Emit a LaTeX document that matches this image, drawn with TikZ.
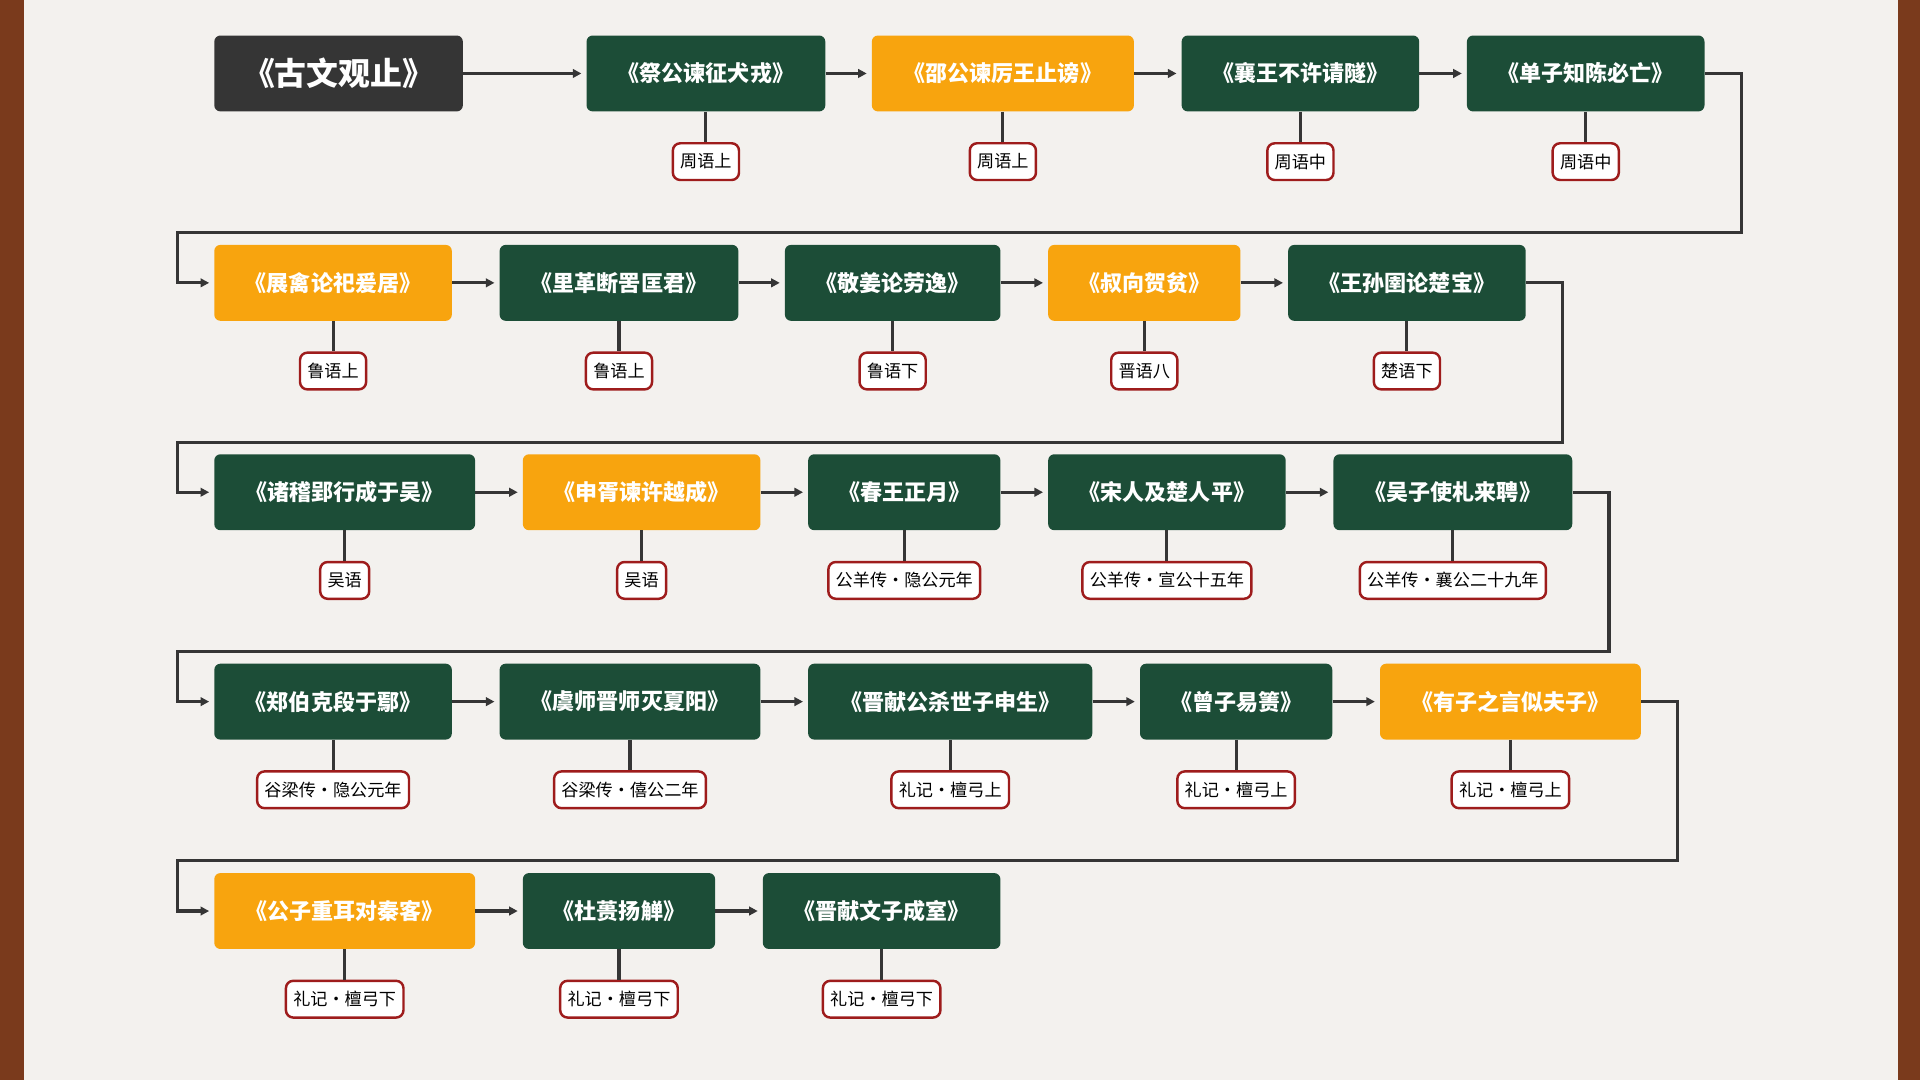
\documentclass[tikz,border=0pt]{standalone}
\usepackage{fontspec}
\setmainfont{Noto Sans CJK SC}
\usetikzlibrary{arrows.meta}
\definecolor{gr}{HTML}{1C4D37}
\definecolor{og}{HTML}{F8A40E}
\definecolor{dk}{HTML}{353535}
\definecolor{rd}{HTML}{9E1C1C}
\definecolor{paper}{HTML}{F3F1EE}
\definecolor{wood}{HTML}{7A3A1C}
\begin{document}
\begin{tikzpicture}[x=1pt,y=-1pt,
 box/.style={rounded corners=5pt,minimum height=62pt,text=white,font=\fontsize{18}{20}\selectfont\bfseries,inner sep=0pt},
 g/.style={box,fill=gr},
 o/.style={box,fill=og},
 lab/.style={draw=rd,line width=2pt,fill=white,rounded corners=6pt,minimum height=30pt,inner xsep=6pt,font=\fontsize{14}{16}\selectfont},
 ar/.style={draw=dk,line width=2.5pt,-{Triangle[length=7pt,width=7pt]}},
 st/.style={draw=dk,line width=2.5pt}]
\fill[wood] (0,0) rectangle (1568,882);
\fill[paper] (20,0) rectangle (1550,882);
\useasboundingbox (0,0) rectangle (1568,882);
% row 1
\node[box,fill=dk,minimum width=203pt,font=\fontsize{26}{28}\selectfont\bfseries] (a0) at (276.5,60) {《古文观止》};
\node[g,minimum width=195pt] (a1) at (576.5,60) {《祭公谏征犬戎》};
\node[o,minimum width=214pt] (a2) at (819,60) {《邵公谏厉王止谤》};
\node[g,minimum width=194pt] (a3) at (1062,60) {《襄王不许请隧》};
\node[g,minimum width=194pt] (a4) at (1295,60) {《单子知陈必亡》};
\node[lab] (l1) at (576.5,132) {周语上};
\node[lab] (l2) at (819,132) {周语上};
\node[lab] (l3) at (1062,132) {周语中};
\node[lab] (l4) at (1295,132) {周语中};
% row 2
\node[o,minimum width=194pt] (b1) at (272,231) {《展禽论祀爰居》};
\node[g,minimum width=195pt] (b2) at (505.5,231) {《里革断罟匡君》};
\node[g,minimum width=176pt] (b3) at (729,231) {《敬姜论劳逸》};
\node[o,minimum width=157pt] (b4) at (934.5,231) {《叔向贺贫》};
\node[g,minimum width=194pt] (b5) at (1149,231) {《王孙圉论楚宝》};
\node[lab] (m1) at (272,303) {鲁语上};
\node[lab] (m2) at (505.5,303) {鲁语上};
\node[lab] (m3) at (729,303) {鲁语下};
\node[lab] (m4) at (934.5,303) {晋语八};
\node[lab] (m5) at (1149,303) {楚语下};
% row 3
\node[g,minimum width=213pt] (c1) at (281.5,402) {《诸稽郢行成于吴》};
\node[o,minimum width=194pt] (c2) at (524,402) {《申胥谏许越成》};
\node[g,minimum width=157pt] (c3) at (738.5,402) {《春王正月》};
\node[g,minimum width=194pt] (c4) at (953,402) {《宋人及楚人平》};
\node[g,minimum width=195pt] (c5) at (1186.5,402) {《吴子使札来聘》};
\node[lab] (n1) at (281.5,474) {吴语};
\node[lab] (n2) at (524,474) {吴语};
\node[lab] (n3) at (738.5,474) {公羊传·隐公元年};
\node[lab] (n4) at (953,474) {公羊传·宣公十五年};
\node[lab] (n5) at (1186.5,474) {公羊传·襄公二十九年};
% row 4
\node[g,minimum width=194pt] (d1) at (272,573) {《郑伯克段于鄢》};
\node[g,minimum width=213pt] (d2) at (514.5,573) {《虞师晋师灭夏阳》};
\node[g,minimum width=232pt] (d3) at (776,573) {《晋献公杀世子申生》};
\node[g,minimum width=157pt] (d4) at (1009.5,573) {《曾子易箦》};
\node[o,minimum width=213pt] (d5) at (1233.5,573) {《有子之言似夫子》};
\node[lab] (p1) at (272,645) {谷梁传·隐公元年};
\node[lab] (p2) at (514.5,645) {谷梁传·僖公二年};
\node[lab] (p3) at (776,645) {礼记·檀弓上};
\node[lab] (p4) at (1009.5,645) {礼记·檀弓上};
\node[lab] (p5) at (1233.5,645) {礼记·檀弓上};
% row 5
\node[o,minimum width=213pt] (e1) at (281.5,744) {《公子重耳对秦客》};
\node[g,minimum width=157pt] (e2) at (505.5,744) {《杜蒉扬觯》};
\node[g,minimum width=194pt] (e3) at (720,744) {《晋献文子成室》};
\node[lab] (q1) at (281.5,816) {礼记·檀弓下};
\node[lab] (q2) at (505.5,816) {礼记·檀弓下};
\node[lab] (q3) at (720,816) {礼记·檀弓下};
% stems
\foreach \b/\l in {a1/l1,a2/l2,a3/l3,a4/l4,b1/m1,b2/m2,b3/m3,b4/m4,b5/m5,c1/n1,c2/n2,c3/n3,c4/n4,c5/n5,d1/p1,d2/p2,d3/p3,d4/p4,d5/p5,e1/q1,e2/q2,e3/q3}
  \draw[st] (\b.south) -- (\l.north);
% chains
\foreach \x/\y in {a0/a1,a1/a2,a2/a3,a3/a4,b1/b2,b2/b3,b3/b4,b4/b5,c1/c2,c2/c3,c3/c4,c4/c5,d1/d2,d2/d3,d3/d4,d4/d5,e1/e2,e2/e3}
  \draw[ar] (\x.east) -- ([xshift=-4pt]\y.west);
% wraps
\draw[ar] (a4.east) -| (1422,190) -| (145,231) -- ([xshift=-4pt]b1.west);
\draw[ar] (b5.east) -| (1276,361) -| (145,402) -- ([xshift=-4pt]c1.west);
\draw[ar] (c5.east) -| (1314,532) -| (145,573) -- ([xshift=-4pt]d1.west);
\draw[ar] (d5.east) -| (1370,703) -| (145,744) -- ([xshift=-4pt]e1.west);
\end{tikzpicture}
\end{document}
